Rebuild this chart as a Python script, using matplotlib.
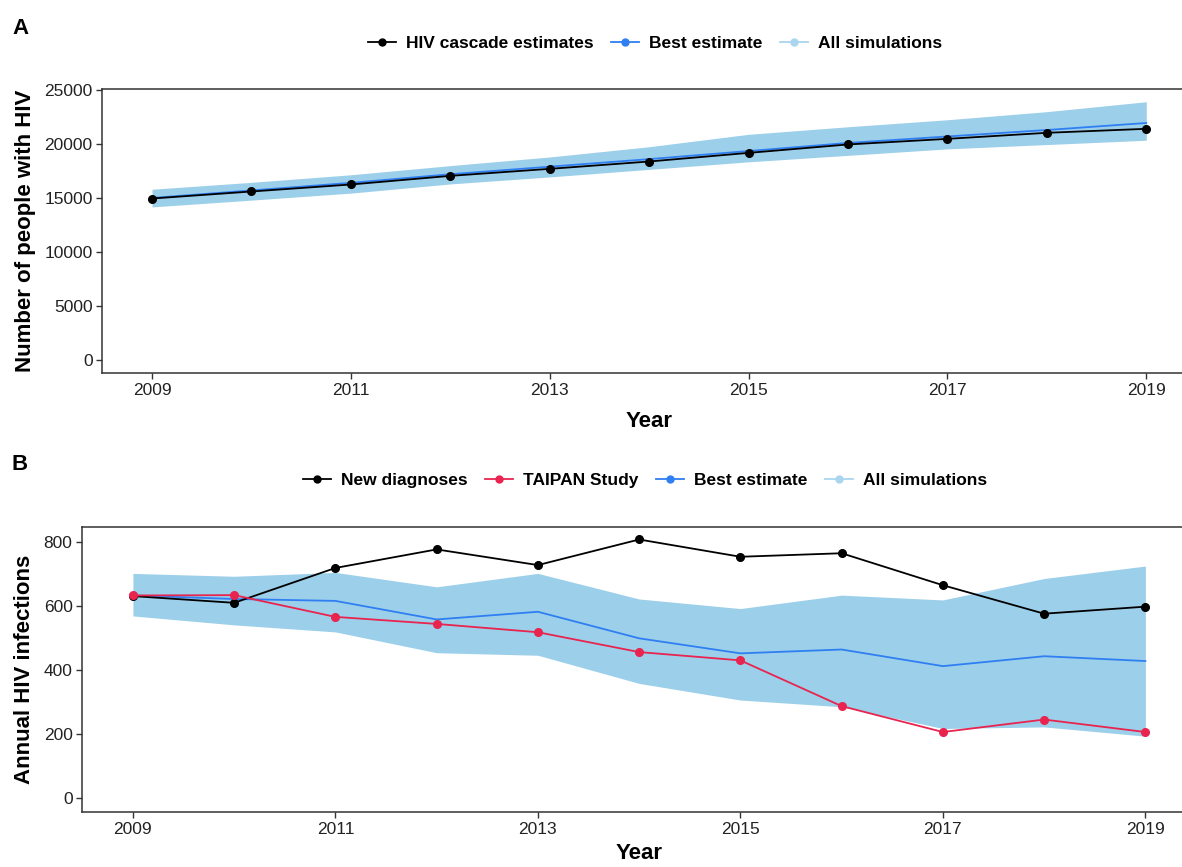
import matplotlib.pyplot as plt

plt.rcParams['font.family'] = ['Liberation Sans', 'DejaVu Sans']

years = [2009, 2010, 2011, 2012, 2013, 2014, 2015, 2016, 2017, 2018, 2019]

# Panel A: people living with HIV
cascade = [14950, 15600, 16250, 17050, 17700, 18380, 19180, 19960, 20480, 21040, 21410]
best_plhiv = [15000, 15700, 16400, 17200, 17900, 18600, 19350, 20100, 20700, 21300, 21950]
sims_plhiv_low = [14170, 14800, 15450, 16300, 16950, 17650, 18350, 18950, 19550, 19950, 20350]
sims_plhiv_high = [15810, 16450, 17150, 18000, 18800, 19750, 20900, 21600, 22250, 23000, 23920]

# Panel B: annual infections
new_diag = [632, 611, 720, 778, 729, 809, 755, 766, 666, 577, 599]
taipan = [634, 635, 567, 545, 519, 457, 431, 288, 207, 246, 207]
best_inf = [634, 623, 617, 559, 583, 500, 453, 465, 413, 444, 429]
sims_inf_low = [570, 542, 520, 455, 447, 359, 307, 286, 218, 223, 194]
sims_inf_high = [703, 694, 706, 661, 703, 623, 593, 635, 620, 687, 726]

c_black = 'black'
c_red = '#E8244F'
c_blue = '#2F7FF2'
c_sim = '#9ccfea'
c_sim_leg = '#a9d6ee'
grey = '#333333'

W, H = 1182, 867
fig = plt.figure(figsize=(W / 100, H / 100), dpi=100)

axA = fig.add_axes([102.3 / W, 1 - 373.3 / H, (1196 - 102.3) / W, (373.3 - 89) / H])
axB = fig.add_axes([82.3 / W, 1 - 812.3 / H, (1196 - 82.3) / W, (812.3 - 526.7) / H])


def style(ax, xpad):
    for s in ax.spines.values():
        s.set_color(grey)
        s.set_linewidth(1.1)
    ax.tick_params(direction='out', length=4, width=1, color=grey,
                   labelsize=12.5, labelcolor='#222222', pad=3)
    ax.set_xlim(2008.5, 2019.5)
    ax.set_xticks([2009, 2011, 2013, 2015, 2017, 2019])
    ax.set_xlabel('Year', fontsize=16, fontweight='bold', labelpad=xpad)


# A
axA.fill_between(years, sims_plhiv_low, sims_plhiv_high, color=c_sim, lw=0)
axA.plot(years, best_plhiv, color=c_blue, lw=1.3)
axA.plot(years, cascade, color=c_black, lw=1.3, marker='o', ms=5.5)
axA.set_ylim(-1250, 25100)
axA.set_yticks([0, 5000, 10000, 15000, 20000, 25000])
axA.set_ylabel('Number of people with HIV', fontsize=16, fontweight='bold', labelpad=6)
style(axA, 9)

# B
axB.fill_between(years, sims_inf_low, sims_inf_high, color=c_sim, lw=0)
axB.plot(years, best_inf, color=c_blue, lw=1.3)
axB.plot(years, new_diag, color=c_black, lw=1.3, marker='o', ms=5.5)
axB.plot(years, taipan, color=c_red, lw=1.3, marker='o', ms=5.5)
axB.set_ylim(-44, 849)
axB.set_yticks([0, 200, 400, 600, 800])
axB.set_ylabel('Annual HIV infections', fontsize=16, fontweight='bold', labelpad=6)
style(axB, 4)


def handle(color):
    return plt.Line2D([], [], color=color, lw=1.3, marker='o', ms=5)


leg_kw = dict(loc='center', frameon=False, handlelength=1.6, handletextpad=0.6,
              columnspacing=1.0, prop={'weight': 'bold', 'size': 12.5})
fig.legend([handle(c_black), handle(c_blue), handle(c_sim_leg)],
           ['HIV cascade estimates', 'Best estimate', 'All simulations'],
           ncol=3, bbox_to_anchor=(655 / W, 1 - 43 / H), **leg_kw)
fig.legend([handle(c_black), handle(c_red), handle(c_blue), handle(c_sim_leg)],
           ['New diagnoses', 'TAIPAN Study', 'Best estimate', 'All simulations'],
           ncol=4, bbox_to_anchor=(645 / W, 1 - 480 / H), **leg_kw)

fig.text(12 / W, 1 - 28 / H, 'A', fontsize=16, fontweight='bold', va='center')
fig.text(12 / W, 1 - 465 / H, 'B', fontsize=16, fontweight='bold', va='center')

fig.savefig('out.png', dpi=100)
